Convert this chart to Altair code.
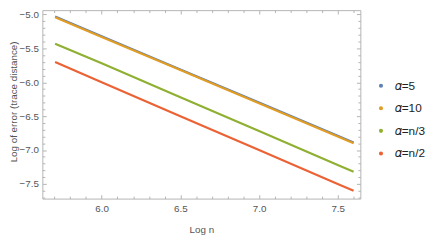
import altair as alt
import pandas as pd

# ---- data ----
log_n = [5.704, 6.0, 6.5, 7.0, 7.5, 7.601]
err_a5 = [-5.03, -5.32, -5.81, -6.30, -6.79, -6.89]
err_a10 = [-5.04, -5.33, -5.82, -6.31, -6.80, -6.90]
err_n3 = [-5.43, -5.72, -6.22, -6.72, -7.22, -7.32]
err_n2 = [-5.70, -6.00, -6.50, -7.00, -7.50, -7.60]

series_names = ["𝛼=5", "𝛼=10", "𝛼=n/3", "𝛼=n/2"]
series_colors = ["#5E81B5", "#E19C24", "#8FB032", "#EB6235"]

x_major = [6.0, 6.5, 7.0, 7.5]
x_minor = [5.7, 5.8, 5.9, 6.1, 6.2, 6.3, 6.4, 6.6, 6.7, 6.8, 6.9,
           7.1, 7.2, 7.3, 7.4, 7.6]
y_major = [-5.0, -5.5, -6.0, -6.5, -7.0, -7.5]
y_minor = [-5.1, -5.2, -5.3, -5.4, -5.6, -5.7, -5.8, -5.9, -6.1, -6.2,
           -6.3, -6.4, -6.6, -6.7, -6.8, -6.9, -7.1, -7.2, -7.3, -7.4,
           -7.6, -7.7]

rows = []
for name, vals in zip(series_names, [err_a5, err_a10, err_n3, err_n2]):
    for xv, yv in zip(log_n, vals):
        rows.append({"x": xv, "y": yv, "s": name})
df = pd.DataFrame(rows)

FRAME = "#b4b4b4"
TXT = "#555555"
FONT = "Liberation Sans"

sx = alt.Scale(domain=[5.623, 7.644], nice=False, zero=False)
sy = alt.Scale(domain=[-7.717, -4.935], nice=False, zero=False)

main = alt.Chart(df).mark_line(strokeWidth=2.2).encode(
    x=alt.X("x:Q", scale=sx, axis=alt.Axis(
        orient="bottom", values=x_major, format=".1f", ticks=False, domain=False,
        grid=False, labelPadding=5, labelFontSize=10, labelColor=TXT, labelFont=FONT,
        title="Log n", titleFontSize=10, titleFontWeight="normal", titleColor=TXT,
        titleFont=FONT, titleX=162, titleY=35, titleAlign="center",
        titleBaseline="alphabetic")),
    y=alt.Y("y:Q", scale=sy, axis=alt.Axis(
        orient="left", values=y_major, format=".1f", ticks=False, domain=False,
        grid=False, labelPadding=4, labelFontSize=10, labelColor=TXT, labelFont=FONT,
        title="Log of error (trace distance)", titleFontSize=10,
        titleFontWeight="normal", titleColor=TXT, titleFont=FONT, titleX=-29.5,
        titleY=93, titleAlign="center", titleBaseline="middle", titleAngle=270)),
    color=alt.Color("s:N", scale=alt.Scale(domain=series_names, range=series_colors),
                    legend=alt.Legend(orient="none", legendX=339, legendY=71, title=None,
                                      symbolType="circle", symbolSize=4,
                                      symbolStrokeWidth=2.2, labelFontSize=12,
                                      labelColor="#222222", labelFont=FONT,
                                      rowPadding=11, labelOffset=8)),
    order=alt.Order("x:Q"),
)


def tick_layer(xvals, yvals, ox, oy, size):
    return alt.Chart(df).mark_line(opacity=0).encode(
        x=alt.X("x:Q", scale=sx, axis=alt.Axis(
            orient=ox, values=xvals, tickSize=size, offset=-size, labels=False,
            domain=False, grid=False, title=None, ticks=True, tickColor=FRAME,
            tickWidth=1)),
        y=alt.Y("y:Q", scale=sy, axis=alt.Axis(
            orient=oy, values=yvals, tickSize=size, offset=-size, labels=False,
            domain=False, grid=False, title=None, ticks=True, tickColor=FRAME,
            tickWidth=1)),
        detail="s:N",
    )


chart = alt.layer(
    main,
    tick_layer(x_major, y_major, "bottom", "left", 4),
    tick_layer(x_minor, y_minor, "bottom", "left", 2.5),
    tick_layer(x_major, y_major, "top", "right", 4),
    tick_layer(x_minor, y_minor, "top", "right", 2.5),
).resolve_axis(x="independent", y="independent").properties(
    width=324, height=192,
    autosize=alt.AutoSizeParams(type="none"),
    padding={"left": 35, "top": 0, "right": 74, "bottom": 40},
).configure_view(stroke=FRAME, strokeWidth=1)

chart.save("out.html", embed_options={"renderer": "svg", "actions": False})
